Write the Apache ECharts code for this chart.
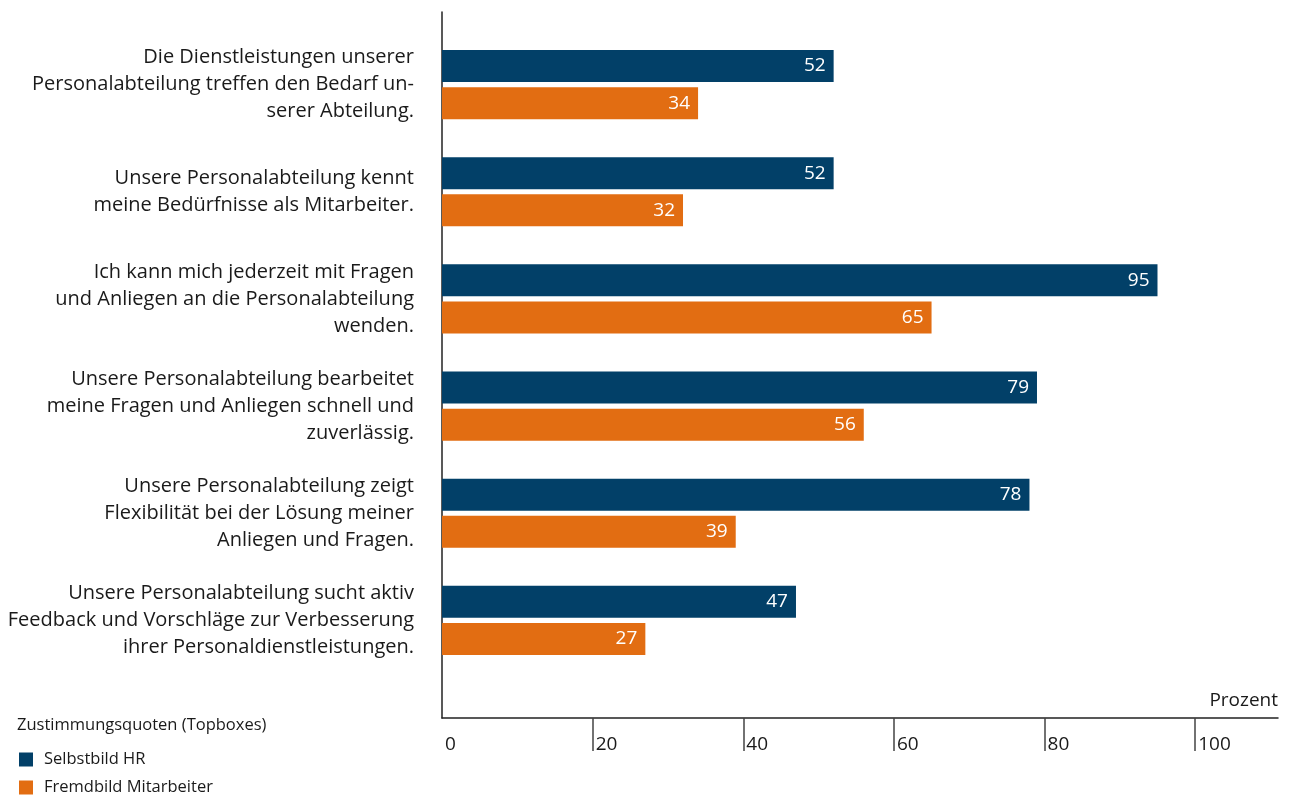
<!DOCTYPE html>
<html><head><meta charset="utf-8">
<script src="https://cdn.jsdelivr.net/npm/echarts@6/dist/echarts.min.js"></script>
<style>html,body{margin:0;padding:0;background:#fff}#c{width:1293px;height:796px}</style>
</head><body><div id="c"></div>
<script>
const categories = [
  "Die Dienstleistungen unserer\nPersonalabteilung treffen den Bedarf un-\nserer Abteilung.",
  "Unsere Personalabteilung kennt\nmeine Bedürfnisse als Mitarbeiter.",
  "Ich kann mich jederzeit mit Fragen\nund Anliegen an die Personalabteilung\nwenden.",
  "Unsere Personalabteilung bearbeitet\nmeine Fragen und Anliegen schnell und\nzuverlässig.",
  "Unsere Personalabteilung zeigt\nFlexibilität bei der Lösung meiner\nAnliegen und Fragen.",
  "Unsere Personalabteilung sucht aktiv\nFeedback und Vorschläge zur Verbesserung\nihrer Personaldienstleistungen."
];
const seriesNames = ["Selbstbild HR", "Fremdbild Mitarbeiter"];
const selbstbild = [52, 52, 95, 79, 78, 47];
const fremdbild = [34, 32, 65, 56, 39, 27];
const tickValues = [0, 20, 40, 60, 80, 100];
const axisName = "Prozent";
const legendTitle = "Zustimmungsquoten (Topboxes)";

const FONT = "Open Sans";
const TXT = "#1a1a1a";
const XMAX = 111;
const chart = echarts.init(document.getElementById('c'), null, {renderer: 'canvas'});
const labelCfg = {show: true, position: 'insideRight', color: '#fff', fontFamily: FONT, fontSize: 19, distance: 8};
const legendBase = {
  orient: 'vertical', left: 19, padding: 0, itemWidth: 14, itemHeight: 14,
  icon: 'rect', textStyle: {fontFamily: FONT, fontSize: 16.5, color: TXT, padding: [0, 0, 0, 6]}
};
chart.setOption({
  animation: false,
  textStyle: {fontFamily: FONT},
  title: {text: legendTitle, left: 17, top: 717, padding: 0, textStyle: {fontFamily: FONT, fontSize: 16.5, fontWeight: 'normal', color: TXT}},
  legend: [
    Object.assign({}, legendBase, {top: 751, data: [seriesNames[0]]}),
    Object.assign({}, legendBase, {top: 779, data: [seriesNames[1]]})
  ],
  grid: [
    {left: 442, right: 15, top: 12, bottom: 78},
    {left: 442, right: 15, top: 31, height: 643}
  ],
  xAxis: [
    {
      gridIndex: 0, type: 'value', min: 0, max: XMAX,
      axisLine: {show: true, lineStyle: {color: '#222', width: 1.5}},
      axisTick: {show: true, customValues: tickValues.slice(1), length: 33, lineStyle: {color: '#444', width: 1.5}},
      axisLabel: {customValues: tickValues, align: 'left', padding: [0, 0, 0, 3], margin: 17, fontSize: 19, color: TXT, fontFamily: FONT},
      splitLine: {show: false},
      name: axisName, nameLocation: 'end', nameGap: 0,
      nameTextStyle: {align: 'right', verticalAlign: 'bottom', padding: [0, 0, 8, 0], fontSize: 19, color: TXT, fontFamily: FONT}
    },
    {
      gridIndex: 1, type: 'value', min: 0, max: XMAX, show: false,
      splitLine: {show: false}
    }
  ],
  yAxis: [
    {
      gridIndex: 0, type: 'value', min: 0, max: 1,
      axisLine: {show: true, lineStyle: {color: '#222', width: 1.5}},
      axisTick: {show: false}, axisLabel: {show: false}, splitLine: {show: false}
    },
    {
      gridIndex: 1, type: 'category', data: categories, inverse: true,
      axisLine: {show: false}, axisTick: {show: false},
      axisLabel: {margin: 28, fontSize: 20, lineHeight: 27, color: TXT, fontFamily: FONT, align: 'right'}
    }
  ],
  series: [
    {name: seriesNames[0], type: 'bar', xAxisIndex: 1, yAxisIndex: 1, data: selbstbild,
     barWidth: 32, barGap: '16%', itemStyle: {color: '#024068'}, label: labelCfg},
    {name: seriesNames[1], type: 'bar', xAxisIndex: 1, yAxisIndex: 1, data: fremdbild,
     barWidth: 32, barGap: '16%', itemStyle: {color: '#e26d12'}, label: labelCfg}
  ]
});
</script></body></html>
